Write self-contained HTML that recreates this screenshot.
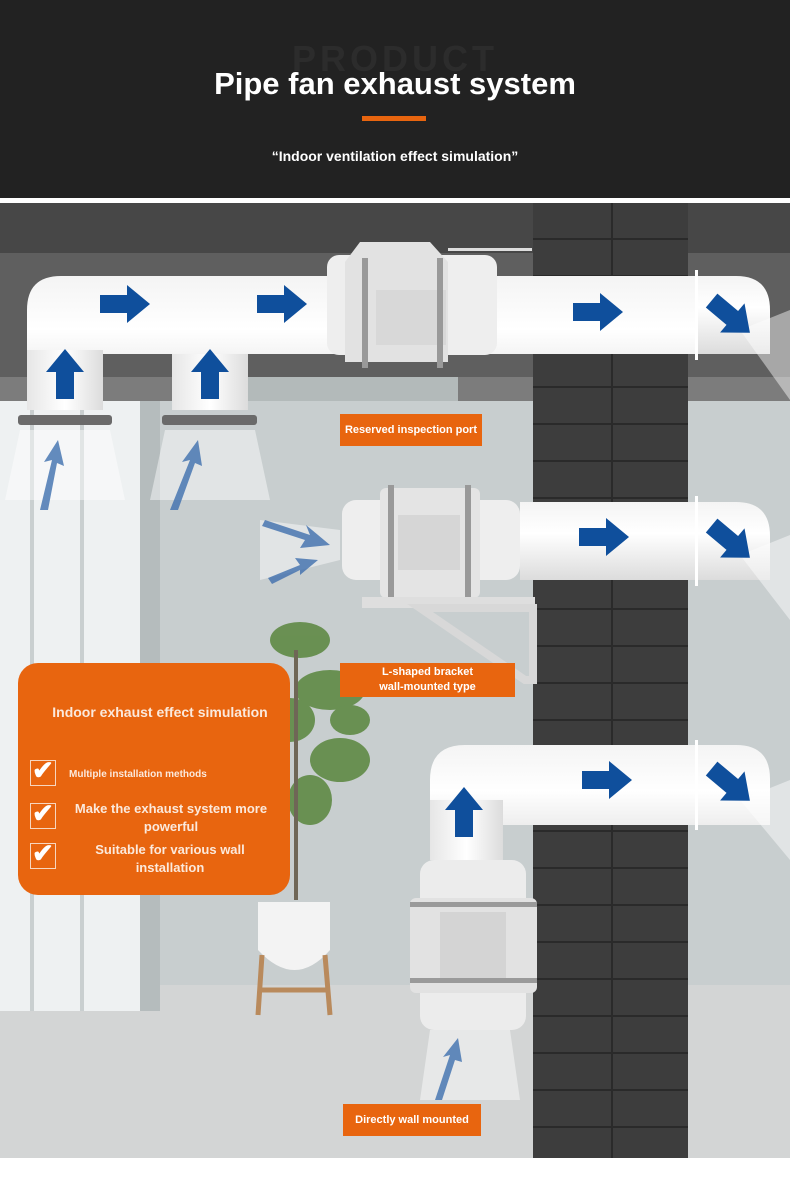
<!DOCTYPE html>
<html><head><meta charset="utf-8"><style>
*{margin:0;padding:0;box-sizing:border-box}
body{width:790px;height:1186px;position:relative;overflow:hidden;background:#fff;font-family:"Liberation Sans",sans-serif}
.a{position:absolute}
.lab{position:absolute;background:#e8650f;color:#fff;font-weight:bold;font-size:11px;text-align:center;line-height:15px;display:flex;align-items:center;justify-content:center}
</style></head><body>
<div class="a" style="left:0;top:0;width:790px;height:198px;background:#222"></div>
<div class="a" style="left:0;top:38px;width:790px;text-align:center;font-size:36px;font-weight:bold;color:#2c2c2c;letter-spacing:4px">PRODUCT</div>
<div class="a" style="left:0;top:66px;width:790px;text-align:center;font-size:31px;font-weight:bold;color:#fff">Pipe fan exhaust system</div>
<div class="a" style="left:362px;top:116px;width:64px;height:5px;background:#e8650f"></div>
<div class="a" style="left:0;top:148px;width:790px;text-align:center;font-size:14px;font-weight:bold;color:#fff">“Indoor ventilation effect simulation”</div>

<svg class="a" style="left:0;top:203px" width="790" height="957" viewBox="0 203 790 957">
<defs>
<linearGradient id="ph" x1="0" y1="0" x2="0" y2="1"><stop offset="0" stop-color="#f4f4f4"/><stop offset=".4" stop-color="#ffffff"/><stop offset="1" stop-color="#dcdcdc"/></linearGradient>
<linearGradient id="pv" x1="0" y1="0" x2="1" y2="0"><stop offset="0" stop-color="#e6e6e6"/><stop offset=".5" stop-color="#fff"/><stop offset="1" stop-color="#dcdcdc"/></linearGradient>
<pattern id="br" x="533" y="203" width="155" height="37" patternUnits="userSpaceOnUse"><rect width="155" height="37" fill="#3d3d3d"/><rect y="35" width="155" height="2" fill="#2a2a2a"/><rect x="78" width="2" height="37" fill="#2a2a2a"/></pattern>
<path id="ar" d="M-24 -9 H3 V-19 L26 0 L3 19 V9 H-24Z"/>
</defs>
<rect x="0" y="203" width="790" height="957" fill="#c8cecf"/>
<rect x="0" y="203" width="790" height="50" fill="#474747"/>
<rect x="0" y="253" width="790" height="124" fill="#5f5f5f"/>
<rect x="0" y="377" width="790" height="24" fill="#7c7c7c"/>
<rect x="238" y="377" width="220" height="24" fill="#b3baba"/>
<rect x="0" y="985" width="790" height="175" fill="#d3d5d5"/>
<rect x="0" y="401" width="140" height="610" fill="#eef1f2"/>
<rect x="30" y="401" width="4" height="610" fill="#c9cfd0"/><rect x="80" y="401" width="4" height="610" fill="#c9cfd0"/>
<rect x="140" y="401" width="20" height="610" fill="#b5bcbd"/>
<rect x="533" y="203" width="155" height="957" fill="url(#br)"/>
<!-- pipe 1 -->
<path d="M27 410 V310 Q27 276 61 276 H700 V354 H248 V410 H172 V354 H103 V410 Z" fill="url(#ph)"/>
<rect x="27" y="350" width="76" height="60" fill="url(#pv)"/><rect x="172" y="354" width="76" height="56" fill="url(#pv)"/>
<path d="M697 276 H736 Q770 276 770 310 V354 H697 Z" fill="url(#ph)"/>
<rect x="695" y="270" width="3" height="90" fill="#fff"/>
<rect x="18" y="415" width="94" height="10" rx="3" fill="#6a6a6a"/><rect x="162" y="415" width="95" height="10" rx="3" fill="#6a6a6a"/>
<rect x="327" y="255" width="170" height="100" rx="12" fill="#eeeeee"/>
<path d="M360 242 H430 L448 262 V362 H345 V262 Z" fill="#e2e2e2"/>
<rect x="376" y="290" width="70" height="55" fill="#d8d8d8"/>
<rect x="362" y="258" width="6" height="110" fill="#999"/><rect x="437" y="258" width="6" height="110" fill="#999"/>
<rect x="448" y="248" width="84" height="3" fill="#ddd"/>
<!-- pipe 2 -->
<path d="M520 502 H736 Q770 502 770 536 V580 H520 Z" fill="url(#ph)"/>
<rect x="695" y="496" width="3" height="90" fill="#fff"/>
<rect x="342" y="500" width="178" height="80" rx="14" fill="#eeeeee"/>
<rect x="380" y="488" width="100" height="110" rx="6" fill="#e4e4e4"/>
<rect x="398" y="515" width="62" height="55" fill="#d6d6d6"/>
<rect x="388" y="485" width="6" height="115" fill="#999"/><rect x="465" y="485" width="6" height="115" fill="#999"/>
<rect x="362" y="597" width="173" height="11" fill="#dedede"/>
<path d="M420 608 L525 680 L533 680 L533 608 Z" fill="none" stroke="#d8d8d8" stroke-width="8"/>
<!-- pipe 3 -->
<path d="M430 860 V780 Q430 745 465 745 H736 Q770 745 770 779 V825 H503 V860 Z" fill="url(#ph)"/>
<rect x="430" y="800" width="73" height="60" fill="url(#pv)"/>
<rect x="695" y="740" width="3" height="90" fill="#fff"/>
<rect x="420" y="860" width="106" height="170" rx="14" fill="#ececec"/>
<rect x="410" y="898" width="127" height="95" rx="6" fill="#e2e2e2"/>
<rect x="440" y="912" width="66" height="66" fill="#d4d4d4"/>
<rect x="410" y="902" width="127" height="5" fill="#9a9a9a"/><rect x="410" y="978" width="127" height="5" fill="#9a9a9a"/>
<!-- air -->
<g fill="#fff" opacity=".45">
<path d="M20 430 L110 430 L125 500 L5 500Z"/><path d="M165 430 L255 430 L270 500 L150 500Z"/>
<path d="M740 330 L790 310 V400Z"/><path d="M740 555 L790 535 V620Z"/><path d="M740 800 L790 780 V860Z"/>
<path d="M260 520 L340 530 L340 560 L260 580Z"/><path d="M430 1030 L510 1030 L520 1100 L420 1100Z"/>
</g>
<!-- arrows -->
<g fill="#0f4f9c">
<use href="#ar" transform="translate(124,304)"/>
<use href="#ar" transform="translate(281,304)"/>
<use href="#ar" transform="translate(597,312)"/>
<use href="#ar" transform="translate(603,537)"/>
<use href="#ar" transform="translate(606,780)"/>
<use href="#ar" transform="translate(65,375) rotate(-90)"/>
<use href="#ar" transform="translate(210,375) rotate(-90)"/>
<use href="#ar" transform="translate(464,813) rotate(-90)"/>
<use href="#ar" transform="translate(730,316) rotate(40)"/>
<use href="#ar" transform="translate(730,541) rotate(40)"/>
<use href="#ar" transform="translate(730,784) rotate(40)"/>
</g>
<g fill="#3f6fae" opacity=".8">
<path d="M40 510 L52 460 L44 462 L58 440 L64 466 L57 463 L48 510Z"/><path d="M170 510 L190 460 L182 462 L198 440 L202 466 L195 463 L178 510Z"/>
<path d="M265 520 L310 535 L306 525 L330 545 L300 548 L305 540 L262 526Z"/><path d="M268 578 L300 565 L295 558 L318 560 L300 575 L300 570 L272 584Z"/>
<path d="M435 1100 L450 1055 L443 1057 L458 1038 L462 1062 L455 1060 L442 1100Z"/>
</g>
<!-- plant -->
<g fill="#5f8a45" opacity=".9">
<ellipse cx="300" cy="640" rx="30" ry="18"/><ellipse cx="330" cy="690" rx="35" ry="20"/><ellipse cx="290" cy="720" rx="25" ry="22"/>
<ellipse cx="340" cy="760" rx="30" ry="22"/><ellipse cx="310" cy="800" rx="22" ry="25"/><ellipse cx="350" cy="720" rx="20" ry="15"/>
</g>
<rect x="294" y="650" width="4" height="250" fill="#6f6656"/>
<path d="M258 902 H330 V950 Q295 990 258 950Z" fill="#f3f3f3"/>
<path d="M262 955 L258 1015 M325 955 L330 1015 M262 990 H328" stroke="#b98a5c" stroke-width="5" fill="none"/>
<rect x="0" y="1158" width="790" height="2" fill="#fff"/>
</svg>

<div class="lab" style="left:340px;top:414px;width:142px;height:32px">Reserved inspection port</div>
<div class="lab" style="left:340px;top:663px;width:175px;height:34px">L-shaped bracket<br>wall-mounted type</div>
<div class="lab" style="left:343px;top:1104px;width:138px;height:32px">Directly wall mounted</div>

<div class="a" style="left:18px;top:663px;width:272px;height:232px;background:#e8650f;border-radius:20px;color:#fbe9dc;font-weight:bold">
<div class="a" style="left:0;top:41px;width:272px;text-align:center;font-size:14px;padding-left:12px">Indoor exhaust effect simulation</div>
<div class="a" style="left:12px;top:97px;width:26px;height:26px;border:1px solid #f7d6bf"></div>
<div class="a" style="left:14px;top:92px;font-size:26px;color:#fff">✔</div>
<div class="a" style="left:51px;top:106px;font-size:10px">Multiple installation methods</div>
<div class="a" style="left:12px;top:140px;width:26px;height:26px;border:1px solid #f7d6bf"></div>
<div class="a" style="left:14px;top:135px;font-size:26px;color:#fff">✔</div>
<div class="a" style="left:44px;top:137px;width:218px;text-align:center;font-size:13px;line-height:18px">Make the exhaust system more powerful</div>
<div class="a" style="left:12px;top:180px;width:26px;height:26px;border:1px solid #f7d6bf"></div>
<div class="a" style="left:14px;top:175px;font-size:26px;color:#fff">✔</div>
<div class="a" style="left:52px;top:178px;width:200px;text-align:center;font-size:13px;line-height:18px">Suitable for various wall installation</div>
</div>
</body></html>
